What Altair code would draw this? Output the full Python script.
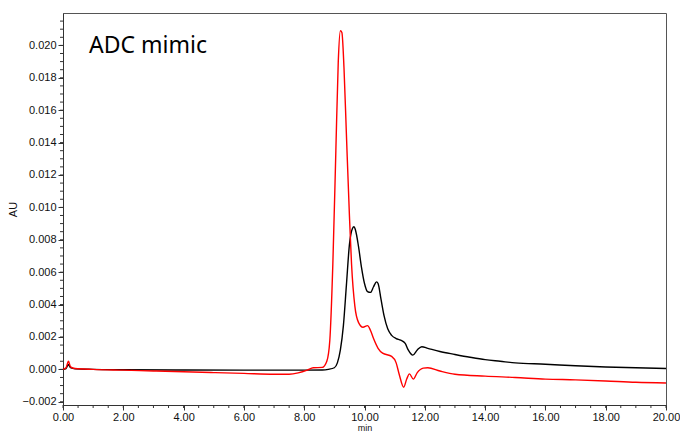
import altair as alt
import pandas as pd

black_t = [0.0, 0.1, 0.18, 0.25, 0.4, 1.0, 2.0, 4.0, 6.0, 8.0, 8.6, 8.8, 9.0, 9.1, 9.2, 9.3, 9.4, 9.5, 9.6, 9.65,
           9.7, 9.8, 9.9, 10.0, 10.1, 10.2, 10.3, 10.4, 10.45, 10.55, 10.65, 10.77, 10.9, 11.05, 11.2, 11.35,
           11.45, 11.6, 11.75, 11.9, 12.1, 12.5, 13.0, 13.5, 14.0, 14.5, 15.0, 16.0, 17.0, 18.0, 19.0, 20.0]
black_v = [0.0, 0.00005, 0.0003, 0.0001, 0.00003, 0.0, -0.00002, -0.00004, -0.00005, -0.00005, -0.00004, 0.0,
           0.0001, 0.0004, 0.0012, 0.0027, 0.0052, 0.0077, 0.0087, 0.0088, 0.0086, 0.0076, 0.0063, 0.0053, 0.0048,
           0.00475, 0.0051, 0.0054, 0.0053, 0.0043, 0.0033, 0.0025, 0.0021, 0.0019, 0.0018, 0.0016, 0.0012,
           0.00088, 0.0012, 0.0014, 0.0013, 0.0011, 0.00092, 0.00075, 0.0006, 0.0005, 0.0004, 0.00032, 0.00022,
           0.00015, 0.0001, 0.00005]

red_t = [0.0, 0.1, 0.18, 0.25, 0.4, 1.0, 2.0, 3.0, 4.0, 5.0, 6.0, 7.0, 7.5, 7.8, 8.1, 8.3, 8.6, 8.75, 8.85, 8.95,
         9.05, 9.13, 9.2, 9.25, 9.32, 9.4, 9.5, 9.57, 9.68, 9.8, 9.95, 10.1, 10.2, 10.3, 10.45, 10.6, 10.9, 11.05,
         11.15, 11.3, 11.4, 11.49, 11.62, 11.75, 11.95, 12.1, 12.5, 13.0, 14.0, 15.0, 16.0, 17.0, 18.0, 19.0, 20.0]
red_v = [0.0, 0.0001, 0.0005, 0.00015, 0.00005, 0.0, -0.00005, -0.0001, -0.00015, -0.0002, -0.00025, -0.0003,
         -0.0003, -0.00022, -0.00005, 0.0001, 0.00012, 0.0005, 0.0018, 0.0065, 0.0135, 0.019, 0.0209, 0.0208,
         0.0186, 0.0145, 0.0095, 0.0065, 0.0039, 0.0029, 0.0026, 0.0027, 0.0024, 0.0019, 0.0013, 0.001, 0.0008,
         0.0004, -0.0003, -0.0011, -0.0006, -0.00028, -0.0006, -0.0002, 0.00008, 0.0001, -0.0001, -0.0003,
         -0.00042, -0.0005, -0.0006, -0.00065, -0.00072, -0.0008, -0.00084]

y_major = [-0.002, 0.0, 0.002, 0.004, 0.006, 0.008, 0.010, 0.012, 0.014, 0.016, 0.018, 0.020]
y_minor = [round(-0.002 + 0.0005 * i, 4) for i in range(48)]
x_major = [0, 2, 4, 6, 8, 10, 12, 14, 16, 18, 20]
x_minor = [0.5 * i for i in range(41)]
title_text = "ADC mimic"

W, H = 603, 392

df = pd.concat([
    pd.DataFrame({"t": black_t, "v": black_v, "s": "black"}),
    pd.DataFrame({"t": red_t, "v": red_v, "s": "red"}),
])

xs = alt.Scale(domain=[0, 20], nice=False, zero=False)
ys = alt.Scale(domain=[-0.0022, 0.022], nice=False, zero=False)
xaxis = alt.Axis(values=x_major, format=".2f", tickSize=5, labelPadding=1, titlePadding=1,
                 labelFlush=False, labelOverlap=False, titleFontSize=9)
yaxis = alt.Axis(values=y_major, format=".3f", tickSize=5, labelPadding=2, titlePadding=4,
                 labelOverlap=False, labelFlush=False)

lines = alt.Chart(df).mark_line(strokeWidth=1.4, interpolate="monotone").encode(
    x=alt.X("t:Q", scale=xs, title="min", axis=xaxis),
    y=alt.Y("v:Q", scale=ys, title="AU", axis=yaxis),
    color=alt.Color("s:N", scale=alt.Scale(domain=["black", "red"], range=["#000000", "#ff0000"]), legend=None),
    order=alt.Order("t:Q"),
)

ymin = alt.Chart(pd.DataFrame({"v": y_minor})).mark_rule(color="#333", strokeWidth=1).encode(
    y=alt.Y("v:Q", scale=ys, title="AU", axis=yaxis), x=alt.value(-3), x2=alt.value(0))
xmin = alt.Chart(pd.DataFrame({"t": x_minor})).mark_rule(color="#333", strokeWidth=1).encode(
    x=alt.X("t:Q", scale=xs, title="min", axis=xaxis), y=alt.value(H), y2=alt.value(H + 3))

title = alt.Chart(pd.DataFrame({"txt": [title_text]})).mark_text(
    align="left", baseline="middle", fontSize=23, font="Noto Sans", color="#000"
).encode(text="txt:N", x=alt.value(26), y=alt.value(33))

chart = alt.layer(lines, ymin, xmin, title).properties(
    width=W, height=H,
    autosize=alt.AutoSizeParams(type="none"),
    padding={"left": 55, "top": 5, "right": 14, "bottom": 28},
).configure_view(
    stroke="#555", strokeWidth=1
).configure_axis(
    labelFont="Liberation Sans", labelFontSize=11, labelColor="#111", titleFont="Liberation Sans",
    titleFontSize=11, titleFontWeight="normal", titleColor="#111", domainColor="#333", tickColor="#333",
    grid=False
)

chart.save("out.html", embed_options={"renderer": "svg", "actions": False})
